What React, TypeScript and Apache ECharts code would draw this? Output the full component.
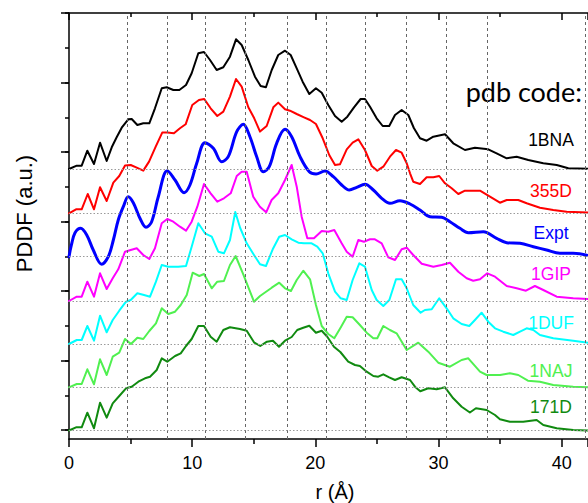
import React, { useEffect, useRef } from "react";
import * as echarts from "echarts";

// ---------- data ----------
const R_MIN = 0;
const R_MAX = 42.14;
const X_TICK_LABELS = ["0", "10", "20", "30", "40"];
const CODES = ["1BNA", "355D", "Expt", "1GIP", "1DUF", "1NAJ", "171D"];
const COLORS = ["#000000", "#ff0000", "#0000ff", "#ff00ff", "#00ffff", "#50f050", "#108a10"];
// vertical offset (a.u.) of each curve's baseline
const OFFSETS = [26.15, 21.72, 17.38, 12.95, 8.65, 4.32, 0];
// dotted peak guides (r, Å)
const PEAK_GUIDES = [4.75, 7.98, 11.1, 14.28, 17.71, 20.85, 24.09, 27.35, 30.65, 33.95, 41.9];

// [r (Å), PDDF (a.u.)] for each pdb code
const PDDF_1BNA = [[0,0],[0.63,0.33],[1.03,0.33],[1.49,1.83],[2.03,0.5],[2.52,2.63],[3.06,0.8],[3.47,2.17],[3.87,3.17],[4.28,4.13],[4.81,4.97],[5.09,5.0],[5.55,4.4],[6.03,4.57],[6.52,4.57],[6.98,6.07],[7.53,8.07],[7.93,8.17],[8.47,7.9],[8.96,7.9],[9.5,8.4],[9.96,9.57],[10.5,11.57],[10.96,11.7],[11.45,10.9],[11.99,9.9],[12.53,10.17],[13.07,11.23],[13.56,12.97],[14.02,12.4],[14.56,10.9],[15.1,9.23],[15.56,8.3],[15.99,8.17],[16.46,9.9],[16.99,11.4],[17.54,11.83],[18.0,11.4],[18.49,10.07],[18.97,8.73],[19.51,7.5],[20.05,8.07],[20.52,7.63],[21.05,6.4],[21.6,5.3],[22.14,4.73],[22.6,5.23],[23.14,6.17],[23.68,7.0],[24.03,7.0],[24.44,6.23],[24.98,5.07],[25.47,4.3],[26.0,4.3],[26.47,5.4],[27.01,5.9],[27.55,5.4],[28.0,4.1],[28.5,3.07],[29.04,2.83],[29.58,3.23],[30.53,3.47],[31.2,2.57],[32.15,1.9],[32.96,2.13],[34.04,1.97],[34.72,1.57],[35.54,1.07],[36.35,1.23],[37.29,0.9],[38.51,0.57],[39.6,0.4],[40.54,0.07],[42.5,0]];
const PDDF_355D = [[0,0],[0.57,0.4],[1.03,0.4],[1.52,1.93],[2.03,0.4],[2.52,2.6],[3.06,1.23],[3.6,3.07],[4.08,3.73],[4.55,4.77],[5.01,4.83],[5.5,4.57],[6.03,4.27],[6.5,5.17],[7.04,6.67],[7.57,8.07],[7.98,8.07],[8.52,8.0],[9.01,8.5],[9.47,8.9],[10.01,10.83],[10.55,11.33],[10.98,11.43],[11.5,10.5],[12.04,9.73],[12.53,10.17],[13.07,11.67],[13.56,13.43],[14.02,12.67],[14.56,10.6],[15.04,9.5],[15.51,8.17],[16.05,8.73],[16.59,10.6],[16.99,11.07],[17.54,10.4],[17.94,10.26],[18.49,9.93],[19.08,9.6],[19.57,9.33],[20.05,8.93],[20.6,7.5],[21.13,5.83],[21.6,4.83],[22.0,4.9],[22.55,6.4],[23.03,7.06],[23.49,7.4],[24.03,6.33],[24.58,4.73],[25.03,4.26],[25.52,4.66],[26.06,5.66],[26.55,6.33],[27.01,6.06],[27.42,5.0],[27.69,4.0],[27.95,3.16],[28.5,2.93],[29.04,3.6],[29.58,3.6],[30.06,3.73],[30.53,3.0],[31.07,2.5],[31.61,1.93],[32.15,2.26],[33.37,2.26],[34.18,1.66],[34.99,1.06],[35.54,1.33],[36.48,1.33],[37.16,1.0],[38.24,0.56],[39.32,0.33],[40.41,0.16],[42.5,0.06]];
const PDDF_EXPT = [[0,0],[0.2,1.2],[0.49,2.4],[0.95,2.85],[1.44,2.17],[1.97,0.67],[2.65,-0.76],[3.19,0],[3.6,1.67],[4.0,3.67],[4.41,5.0],[4.81,6.0],[5.22,5.4],[5.76,3.84],[6.25,2.94],[6.71,3.5],[7.25,6.0],[7.98,8.6],[8.61,7.67],[9.34,6.4],[9.82,7.17],[10.37,9.34],[11.04,11.4],[11.72,10.84],[12.4,9.5],[12.93,10.0],[13.62,12.5],[14.15,13.24],[14.69,12.0],[15.24,10.0],[15.78,8.5],[16.26,9.0],[16.86,11.34],[17.54,12.74],[18.08,12.0],[18.76,10.0],[19.51,8.5],[20.06,8.27],[20.78,8.57],[21.46,8.0],[22.14,7.17],[22.76,6.67],[23.36,6.94],[24.03,7.24],[24.71,6.67],[25.39,5.84],[26.06,5.34],[26.87,5.6],[27.69,5.27],[28.5,4.67],[29.31,4.0],[30.26,3.94],[30.93,3.5],[31.74,2.84],[32.42,2.4],[33.64,2.5],[34.72,1.84],[35.54,1.4],[36.62,1.34],[37.7,1.0],[38.78,0.67],[39.86,0.34],[40.94,0.34],[42.5,0]];
const PDDF_1GIP = [[0,0],[0.63,0.43],[1.03,0.43],[1.49,1.93],[2.03,0.43],[2.52,2.77],[3.06,1.2],[3.55,2.27],[4.0,3.17],[4.55,4.93],[5.01,5.1],[5.5,5.27],[6.03,4.6],[6.52,4.2],[6.98,5.27],[7.53,7.77],[7.98,8.2],[8.47,7.93],[9.01,7.43],[9.5,7.03],[9.96,7.93],[10.42,9.43],[10.96,11.7],[11.5,10.77],[12.04,9.93],[12.58,10.27],[13.13,10.77],[13.62,12.5],[14.02,12.93],[14.43,12.93],[14.96,10.43],[15.5,9.43],[16.01,8.87],[16.45,10.1],[16.99,10.77],[17.54,12.1],[18.08,13.6],[18.49,11.43],[18.89,8.43],[19.35,6.27],[19.89,6.27],[20.52,7.0],[21.05,6.93],[21.54,7.1],[22.14,5.77],[22.55,4.93],[23.03,4.43],[23.49,6.1],[23.95,5.93],[24.44,6.17],[24.84,6.17],[25.39,5.77],[25.92,4.37],[26.47,4.1],[27.01,5.17],[27.42,5.33],[27.95,4.6],[28.64,3.73],[29.58,3.43],[30.26,3.6],[30.93,3.83],[31.61,2.93],[32.29,2.27],[32.82,2.03],[33.37,2.17],[33.96,2.77],[34.59,2.43],[35.54,1.5],[36.35,1.27],[37.1,1.03],[37.83,1.5],[38.51,1.1],[39.6,0.43],[40.94,0.27],[42.5,0.17]];
const PDDF_1DUF = [[0,0],[0.63,0.4],[1.03,0.4],[1.49,1.8],[2.03,0.33],[2.52,2.83],[3.06,1.17],[3.55,2.4],[4.08,3.33],[4.63,4.23],[5.01,4.4],[5.55,5.07],[6.09,4.9],[6.58,4.73],[7.06,6.23],[7.53,7.9],[8.06,7.73],[8.87,7.73],[9.5,7.8],[9.96,9.73],[10.5,12.07],[11.04,11.07],[11.59,10.73],[12.12,9.23],[12.58,9.07],[13.07,10.4],[13.5,13.2],[13.9,11.6],[14.43,10.07],[15.02,8.9],[15.51,7.97],[15.99,7.8],[16.54,9.47],[17.07,10.73],[17.54,10.9],[18.08,10.47],[18.62,10.13],[19.08,10.07],[19.7,10.07],[20.16,9.73],[20.6,9.07],[21.05,7.07],[21.6,5.23],[22.06,4.57],[22.55,4.4],[23.03,6.4],[23.57,8.07],[24.03,7.73],[24.58,5.4],[24.98,4.4],[25.52,3.8],[26.01,4.4],[26.55,6.47],[27.01,6.47],[27.42,5.57],[27.95,3.9],[28.55,3.13],[28.9,3.4],[29.45,3.47],[30.06,4.57],[30.66,3.57],[31.2,2.57],[31.88,2.0],[32.5,1.8],[32.96,2.4],[33.5,3.13],[34.04,2.23],[34.59,1.57],[35.26,1.23],[36.07,0.9],[36.62,1.23],[37.16,1.57],[37.7,1.4],[38.24,0.9],[39.32,0.57],[40.94,0.33],[42.5,0.07]];
const PDDF_1NAJ = [[0,0],[0.63,0.33],[1.03,0.33],[1.49,1.8],[2.03,0.3],[2.52,2.8],[3.06,1.23],[3.55,3.06],[4.08,3.46],[4.55,4.83],[5.03,4.33],[5.55,4.96],[6.03,4.83],[6.52,5.63],[7.06,6.4],[7.53,7.9],[8.06,7.33],[8.61,7.56],[9.07,8.23],[9.56,9.23],[10.04,11.46],[10.58,11.13],[10.96,11.33],[11.59,9.9],[12.04,10.56],[12.58,10.63],[13.07,12.23],[13.53,13.13],[14.15,11.3],[15.02,8.56],[15.51,9.13],[16.46,9.96],[17.07,10.46],[17.54,9.9],[18.02,9.63],[18.49,10.73],[19.02,11.66],[19.57,10.8],[20.05,8.23],[20.52,6.13],[21.05,5.33],[21.54,4.9],[22.06,5.99],[22.55,7.06],[23.03,7.0],[23.62,6.23],[24.17,5.46],[24.71,4.9],[25.03,4.9],[25.52,6.13],[26.06,5.73],[26.6,5.4],[27.42,3.73],[28.36,4.46],[29.17,3.56],[29.98,2.46],[30.93,2.06],[31.88,2.73],[32.42,2.9],[33.37,1.56],[33.91,1.23],[35.0,1.23],[35.8,1.4],[36.48,1.23],[37.26,0.66],[38.24,0.56],[39.32,0.23],[40.94,0.06],[42.5,0]];
const PDDF_171D = [[0,0],[0.57,0.32],[1.03,0.32],[1.49,1.78],[2.03,0.22],[2.52,2.78],[3.06,1.28],[3.55,2.72],[4.08,3.45],[4.63,4.22],[5.09,4.38],[5.63,4.88],[6.17,5.22],[6.58,5.38],[7.12,6.05],[7.53,7.22],[7.98,6.88],[8.61,7.45],[9.07,7.72],[9.5,8.45],[9.96,9.15],[10.5,10.45],[10.96,10.45],[11.5,9.38],[11.99,8.88],[12.53,10.05],[13.07,10.32],[13.88,10.15],[14.43,9.98],[15.02,8.82],[15.53,8.45],[16.07,8.88],[16.56,8.98],[17.05,8.38],[17.54,8.98],[18.08,9.35],[18.53,10.05],[19.02,10.28],[19.51,10.48],[20.05,9.78],[20.52,9.98],[20.97,9.38],[21.51,8.38],[22.03,7.85],[22.67,6.88],[23.22,6.55],[23.62,6.45],[24.17,5.88],[24.71,5.45],[25.11,5.38],[25.52,5.62],[26.0,5.32],[26.47,5.05],[27.01,5.32],[27.69,5.05],[28.09,4.38],[28.52,3.92],[29.17,4.22],[29.85,4.12],[30.53,4.32],[31.2,3.22],[31.88,2.38],[32.55,1.8],[33.04,2.22],[33.91,2.05],[34.59,1.55],[34.99,1.12],[35.8,0.88],[36.88,0.88],[37.97,1.05],[38.51,0.55],[39.6,0.22],[40.94,0.05],[42.5,0]];

const CURVES = [PDDF_1BNA, PDDF_355D, PDDF_EXPT, PDDF_1GIP, PDDF_1DUF, PDDF_1NAJ, PDDF_171D];

// ---------- layout (pixels) ----------
const W = 588;
const H = 503;
const LABEL_X = 551;
const LABEL_Y = [140.2, 191.4, 232.6, 273.6, 322.9, 370.9, 406.9];
const FONT = "'Liberation Sans', Arial, sans-serif";

export default function App() {
  const ref = useRef<HTMLDivElement>(null);

  useEffect(() => {
    if (!ref.current) return;
    const chart = echarts.init(ref.current, undefined, { renderer: "svg" });

    const axisLineStyle = { color: "#000", width: 1.5 };

    const curveSeries = CURVES.map((pts, i) => ({
      type: "line",
      name: CODES[i],
      xAxisIndex: 0,
      yAxisIndex: 0,
      data: pts.map(([r, v]) => [r, v + OFFSETS[i]]),
      showSymbol: false,
      symbol: "none",
      smooth: i === 2 ? 0.35 : false,
      clip: true,
      z: 3,
      silent: true,
      lineStyle: {
        color: COLORS[i],
        width: i === 2 ? 3 : 2,
        cap: "round",
        join: "round",
      },
    }));

    const guideSeries = {
      type: "line",
      xAxisIndex: 0,
      yAxisIndex: 0,
      data: [[-10, -10]],
      symbol: "none",
      lineStyle: { opacity: 0 },
      silent: true,
      z: 1,
      markLine: {
        silent: true,
        symbol: ["none", "none"],
        label: { show: false },
        animation: false,
        data: [
          ...PEAK_GUIDES.map((x) => ({
            xAxis: x,
            lineStyle: { color: "#666", width: 1, type: [3, 3] },
          })),
          ...OFFSETS.map((y) => ({
            yAxis: y,
            lineStyle: { color: "#9a9a9a", width: 1, type: [1.5, 2] },
          })),
        ],
      },
    };

    const dummy = (xi: number, yi: number) => ({
      type: "line",
      xAxisIndex: xi,
      yAxisIndex: yi,
      data: [[0, 0]],
      symbol: "none",
      lineStyle: { opacity: 0 },
      silent: true,
    });

    const option: any = {
      animation: false,
      grid: [
        { left: 69, right: W - 588, top: 13, bottom: H - 439 },
        { left: 69, right: 0, top: 13, bottom: H - 430 },
        { left: 69, right: 0, top: 13, bottom: H - 430 },
      ],
      xAxis: [
        {
          gridIndex: 0,
          type: "value",
          min: R_MIN,
          max: R_MAX,
          interval: 10,
          position: "bottom",
          axisLine: { show: true, onZero: false, lineStyle: axisLineStyle },
          axisTick: { show: true, inside: false, length: 8, lineStyle: axisLineStyle },
          minorTick: { show: true, splitNumber: 2, length: 5, lineStyle: axisLineStyle },
          axisLabel: {
            show: true,
            margin: 15,
            color: "#000",
            fontSize: 18,
            fontFamily: FONT,
            showMaxLabel: false,
            formatter: (v: number) => {
              const idx = Math.round(v / 10);
              return Math.abs(v - idx * 10) < 1e-6 && X_TICK_LABELS[idx] !== undefined ? X_TICK_LABELS[idx] : "";
            },
          },
          splitLine: { show: false },
        },
        {
          gridIndex: 0,
          type: "value",
          min: R_MIN,
          max: R_MAX,
          interval: 10,
          position: "top",
          axisLine: { show: true, onZero: false, lineStyle: axisLineStyle },
          axisTick: { show: true, inside: true, length: 7, lineStyle: axisLineStyle },
          minorTick: { show: true, splitNumber: 2, length: 4, lineStyle: axisLineStyle },
          axisLabel: { show: false },
          splitLine: { show: false },
        },
        { gridIndex: 1, type: "value", min: 0, max: 1, show: false },
        { gridIndex: 2, type: "value", min: 0, max: 1, show: false },
      ],
      yAxis: [
        {
          gridIndex: 0,
          type: "value",
          min: -0.85,
          max: 41.75,
          axisLine: { show: true, onZero: false, lineStyle: axisLineStyle },
          axisTick: { show: false },
          axisLabel: { show: false },
          splitLine: { show: false },
        },
        {
          gridIndex: 1,
          type: "value",
          min: 0,
          max: 12,
          interval: 1,
          axisLine: { show: false },
          axisTick: { show: true, inside: false, length: 4, lineStyle: axisLineStyle },
          axisLabel: { show: false },
          splitLine: { show: false },
        },
        {
          gridIndex: 2,
          type: "value",
          min: 0,
          max: 12,
          interval: 2,
          axisLine: { show: false },
          axisTick: { show: true, inside: false, length: 8, lineStyle: axisLineStyle },
          axisLabel: { show: false },
          splitLine: { show: false },
        },
      ],
      series: [guideSeries, ...curveSeries, dummy(2, 1), dummy(3, 2)],
      graphic: [
        {
          type: "text",
          x: 24,
          y: 213.5,
          rotation: Math.PI / 2,
          style: {
            text: "PDDF (a.u.)",
            fill: "#000",
            fontSize: 22,
            fontFamily: FONT,
            align: "center",
            verticalAlign: "middle",
            textAlign: "center",
            textVerticalAlign: "middle",
          },
        },
        {
          type: "text",
          x: 335,
          y: 492,
          style: {
            text: "r (Å)",
            fill: "#000",
            fontSize: 20,
            fontFamily: FONT,
            align: "center",
            verticalAlign: "middle",
            textAlign: "center",
            textVerticalAlign: "middle",
          },
        },
        {
          type: "text",
          x: 582,
          y: 91.3,
          style: {
            text: "pdb code:",
            fill: "#000",
            fontSize: 27,
            fontFamily: "Lato, 'Open Sans', sans-serif",
            align: "right",
            verticalAlign: "middle",
            textAlign: "right",
            textVerticalAlign: "middle",
          },
        },
        ...CODES.map((c, i) => ({
          type: "text",
          x: LABEL_X,
          y: LABEL_Y[i],
          style: {
            text: c,
            fill: COLORS[i],
            fontSize: 17.5,
            fontFamily: FONT,
            align: "center",
            verticalAlign: "middle",
            textAlign: "center",
            textVerticalAlign: "middle",
          },
        })),
      ],
    };

    chart.setOption(option);
    return () => chart.dispose();
  }, []);

  return (
    <div
      ref={ref}
      style={{ position: "absolute", left: 0, top: 0, width: W, height: H, background: "#fff" }}
    />
  );
}
